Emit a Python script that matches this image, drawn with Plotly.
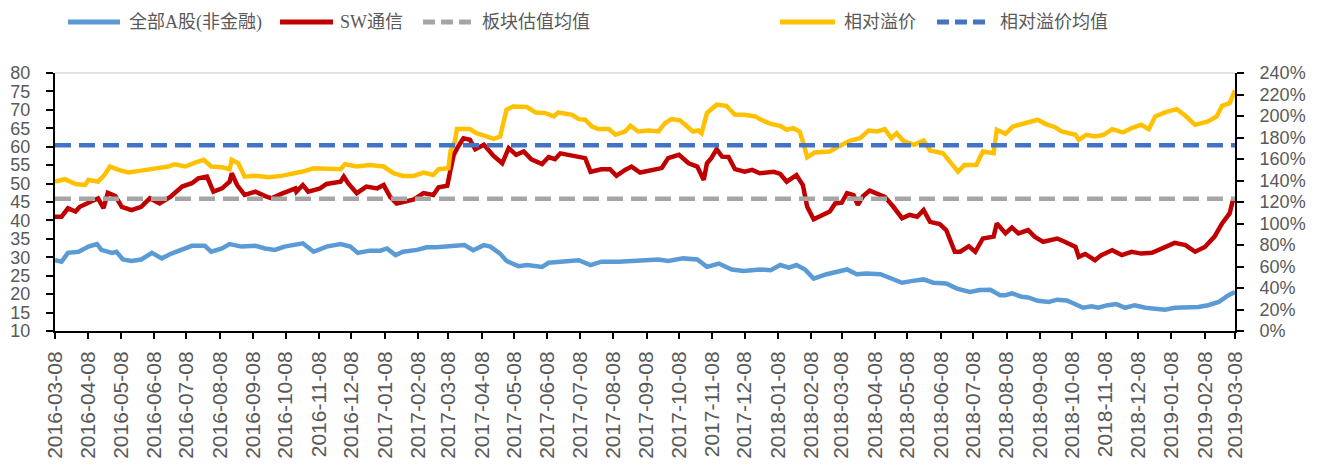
import pandas as pd
import plotly.graph_objects as go

START = "2016-03-08"
END = "2019-03-08"

tick_labels = [
    "2016-03-08", "2016-04-08", "2016-05-08", "2016-06-08", "2016-07-08", "2016-08-08",
    "2016-09-08", "2016-10-08", "2016-11-08", "2016-12-08", "2017-01-08", "2017-02-08",
    "2017-03-08", "2017-04-08", "2017-05-08", "2017-06-08", "2017-07-08", "2017-08-08",
    "2017-09-08", "2017-10-08", "2017-11-08", "2017-12-08", "2018-01-08", "2018-02-08",
    "2018-03-08", "2018-04-08", "2018-05-08", "2018-06-08", "2018-07-08", "2018-08-08",
    "2018-09-08", "2018-10-08", "2018-11-08", "2018-12-08", "2019-01-08", "2019-02-08",
    "2019-03-08",
]

series_names = ["全部A股(非金融)", "SW通信", "板块估值均值", "相对溢价", "相对溢价均值"]

# days since 2016-03-08
a_share_day = [0, 6, 12, 22, 31, 39, 43, 53, 57, 63, 71, 80, 90, 99, 108, 118, 127, 139, 145, 155, 162, 173, 186, 195, 204, 213, 223,
               230, 240, 252, 265, 274, 281, 292, 302, 308, 316, 323, 336, 345, 354, 367, 380, 388, 398, 404, 413, 419, 430, 438,
               452, 458, 473, 486, 497, 507, 523, 535, 548, 560, 569, 583, 596, 605, 616, 628, 639, 650,
               654, 664, 673, 681, 688, 696, 704, 716, 725, 735, 744, 753, 766, 778, 786, 796, 806, 815, 827, 837, 849, 858, 868, 877,
               882, 888, 897, 903, 912, 922, 930, 939, 947, 954, 962, 968, 977, 985, 993, 1002, 1012, 1021, 1030, 1039, 1052, 1061, 1070, 1080, 1089, 1095]
a_share_pe = [29.2, 28.8, 31.2, 31.5, 32.9, 33.6, 32.0, 31.2, 31.5, 29.4, 29.0, 29.4, 31.2, 29.7, 31.0, 32.0, 33.1, 33.1, 31.5, 32.4, 33.6, 32.9, 33.1, 32.4, 32.0, 32.9, 33.6,
              33.8, 31.5, 32.9, 33.6, 32.9, 31.2, 31.8, 31.8, 32.4, 30.6, 31.5, 32.0, 32.7, 32.7, 32.9, 33.3, 31.9, 33.3, 32.9, 31.0, 29.0, 27.6, 27.9,
              27.4, 28.5, 28.8, 29.2, 27.9, 28.8, 28.8, 29.0, 29.0, 29.4, 29.0, 29.7, 29.4, 27.4, 28.3, 26.7, 26.3, 26.7,
              26.7, 26.5, 27.9, 27.2, 27.9, 26.7, 24.2, 25.4, 26.1, 26.7, 25.4, 25.6, 25.4, 24.2, 23.1, 23.6, 24.0, 23.1, 22.9, 21.5, 20.6, 21.1, 21.2, 19.7,
              19.7, 20.2, 19.3, 19.1, 18.2, 17.9, 18.5, 18.3, 17.4, 16.3, 16.7, 16.3, 17.0, 17.3, 16.3, 17.0, 16.3, 16.1, 15.8, 16.3, 16.5, 16.5, 17.0, 17.9, 19.7, 20.6]

telecom_day = [0, 6, 12, 19, 23, 31, 40, 45, 49, 56, 62, 71, 80, 88, 97, 107, 118, 127, 133, 141, 147, 155, 162, 164, 169, 176, 186, 195, 201, 210, 223,
               224, 230, 235, 246, 252, 265, 268, 272, 280, 289, 299, 305, 311, 317, 325, 333, 342, 351, 356, 364, 367, 370, 374, 379, 385, 390, 398, 407, 415, 421, 428, 435,
               442, 452, 458, 464, 469, 480, 487, 492, 497, 507, 515, 521, 529, 535, 543, 554, 563, 569, 579, 588, 596, 602, 605, 609, 614, 619, 625, 631, 640, 647,
               654, 667, 673, 679, 688, 694, 698, 704, 713, 719, 724, 730, 735, 741, 745, 750, 756, 763, 770, 778, 786, 793, 800, 806, 812, 821, 827, 835, 840, 848, 854, 861, 871, 874, 877,
               882, 888, 894, 903, 909, 917, 923, 930, 937, 947, 950, 956, 965, 971, 981, 990, 999, 1008, 1018, 1027, 1039, 1049, 1058, 1067, 1076, 1083, 1090, 1093, 1095]
telecom_pe = [41.0, 41.0, 43.3, 42.4, 43.7, 44.8, 46.0, 43.3, 47.5, 46.6, 43.7, 42.8, 43.7, 46.0, 44.6, 46.4, 49.2, 50.1, 51.4, 51.9, 47.8, 48.7, 50.5, 52.8, 49.6, 46.9, 47.8, 46.6, 46.0, 47.2, 48.7,
              47.8, 49.6, 47.8, 48.7, 49.9, 50.5, 51.9, 50.1, 47.4, 49.2, 48.7, 49.6, 46.4, 44.6, 45.1, 45.7, 47.4, 46.9, 49.0, 49.4, 53.7, 57.8, 60.0, 62.3, 61.9, 59.3, 60.5, 57.5, 55.5, 59.6, 57.8, 58.7,
              56.6, 55.3, 57.2, 56.6, 58.2, 57.5, 57.2, 56.9, 53.2, 53.9, 53.9, 52.1, 53.7, 54.6, 53.0, 53.7, 54.2, 56.9, 57.8, 55.5, 54.6, 51.0, 55.5, 56.9, 59.3, 57.3, 57.2, 53.9, 53.2, 53.7,
              52.8, 53.2, 52.6, 50.5, 52.3, 49.6, 43.7, 40.3, 41.5, 42.4, 44.6, 44.8, 47.4, 46.9, 44.2, 46.6, 48.1, 47.4, 46.4, 43.7, 40.6, 41.5, 41.0, 42.8, 39.6, 39.0, 37.4, 31.5, 31.5, 33.0, 31.5, 35.1, 35.6, 39.2, 38.3,
              36.5, 38.1, 36.5, 37.4, 35.6, 34.2, 34.7, 35.1, 34.2, 32.8, 30.1, 30.9, 29.2, 30.6, 31.9, 30.6, 31.5, 31.0, 31.2, 32.4, 33.9, 33.3, 31.5, 32.8, 35.6, 39.2, 41.9, 45.4, 45.0]

premium_day = [0, 9, 19, 28, 31, 40, 46, 51, 59, 68, 80, 93, 105, 111, 121, 130, 138, 145, 155, 162, 164, 170, 176, 186, 198, 210, 223,
               230, 240, 252, 265, 269, 280, 292, 305, 314, 323, 333, 342, 351, 356, 365, 367, 371, 373, 385, 391, 401, 407, 413, 419, 425, 438,
               446, 455, 463, 467, 480, 486, 492, 498, 504, 514, 520, 529, 534, 541, 551, 560, 566, 572, 580, 588, 592, 597, 600, 605, 614, 623, 631, 640, 650,
               654, 664, 673, 679, 685, 691, 694, 698, 705, 719, 728, 738, 747, 755, 763, 770, 776, 781, 787, 797, 806, 812, 824, 831, 838, 844, 855, 861, 871, 874,
               882, 889, 897, 905, 912, 919, 928, 934, 947, 950, 957, 965, 973, 981, 991, 999, 1008, 1015, 1021, 1030, 1041, 1049, 1058, 1070, 1078, 1083, 1090, 1095]
premium_pct = [139.0, 141.2, 136.8, 135.9, 140.5, 139.0, 145.2, 153.0, 149.9, 147.4, 149.2, 150.8, 153.0, 155.1, 153.0, 156.7, 159.2, 153.0, 152.3, 150.5, 159.2, 156.1, 143.6, 144.3, 143.0, 144.3, 146.8,
               148.3, 151.4, 151.4, 150.5, 155.1, 153.0, 154.5, 153.0, 146.8, 144.3, 144.3, 147.4, 145.2, 150.5, 151.4, 167.0, 176.3, 187.8, 187.8, 184.0, 180.9, 178.8, 180.9, 205.8, 208.9, 208.3,
               203.3, 202.7, 199.6, 203.3, 201.1, 197.1, 196.5, 190.3, 187.8, 187.8, 182.5, 185.6, 190.9, 185.6, 186.5, 185.6, 193.4, 197.1, 195.9, 188.7, 185.6, 186.5, 184.0, 202.7, 210.5, 209.5, 201.1, 201.1, 199.6,
               197.1, 192.7, 190.9, 187.2, 188.7, 185.6, 176.3, 161.7, 166.0, 167.0, 172.2, 177.2, 179.4, 186.5, 185.6, 187.8, 179.4, 184.0, 177.2, 173.2, 177.2, 167.9, 165.4, 156.7, 148.3, 154.5, 154.5, 167.0, 165.4, 187.2,
               183.4, 190.3, 192.7, 194.9, 196.5, 192.7, 189.6, 185.6, 182.5, 177.8, 182.5, 180.9, 182.5, 187.8, 184.7, 188.7, 191.8, 187.8, 199.6, 203.3, 206.4, 200.2, 191.8, 194.9, 199.6, 209.5, 212.0, 223.8]

sector_mean_pe = 45.9
premium_mean_pct = 172.8

colors = ["#5B9BD5", "#C00000", "#A5A5A5", "#FFC000", "#4472C4"]
dash_styles = ["solid", "solid", "16px,8px", "solid", "16px,8px"]


def to_dates(days):
    return pd.Timestamp(START) + pd.to_timedelta(days, unit="D")


fig = go.Figure()
fig.add_trace(go.Scatter(x=to_dates(a_share_day), y=a_share_pe, mode="lines", name=series_names[0],
                         line=dict(color=colors[0], width=4.5), yaxis="y"))
fig.add_trace(go.Scatter(x=to_dates(telecom_day), y=telecom_pe, mode="lines", name=series_names[1],
                         line=dict(color=colors[1], width=4.5), yaxis="y"))
fig.add_trace(go.Scatter(x=[START, END], y=[sector_mean_pe, sector_mean_pe], mode="lines", name=series_names[2],
                         line=dict(color=colors[2], width=4.5, dash=dash_styles[2]), yaxis="y"))
fig.add_trace(go.Scatter(x=to_dates(premium_day), y=premium_pct, mode="lines", name=series_names[3],
                         line=dict(color=colors[3], width=4.5), yaxis="y2"))
fig.add_trace(go.Scatter(x=[START, END], y=[premium_mean_pct, premium_mean_pct], mode="lines", name=series_names[4],
                         line=dict(color=colors[4], width=4.5, dash=dash_styles[4]), yaxis="y2"))

# --- layout in page pixels (the page body has an 8px default margin) ---
BODY = 8
W, H = 1330 - BODY, 470 - BODY
ML, MR, MT, MB = 55 - BODY, 95, 73 - BODY, 139
PW, PH = W - ML - MR, H - MT - MB


def px_x(px):
    return (px - BODY - ML) / PW


def px_y(py):
    return (H - MB - (py - BODY)) / PH


legend_items = [(68, 120, 127), (280, 333, 338), (423, 472, 480), (780, 835, 842), (937, 987, 998)]
legend_y = 22
shapes = []
annotations = []
for i, (x0, x1, tx) in enumerate(legend_items):
    shapes.append(dict(type="line", xref="paper", yref="paper",
                       x0=px_x(x0), x1=px_x(x1), y0=px_y(legend_y), y1=px_y(legend_y),
                       line=dict(color=colors[i], width=5,
                                 dash="solid" if dash_styles[i] == "solid" else "12px,6px")))
    annotations.append(dict(xref="paper", yref="paper", x=px_x(tx), y=px_y(legend_y),
                            text=series_names[i], showarrow=False, xanchor="left", yanchor="middle",
                            font=dict(family="Liberation Serif, Noto Sans CJK SC", size=18, color="#595959")))

# light top border of the plot area
shapes.append(dict(type="line", xref="paper", yref="paper", x0=0, x1=1, y0=1, y1=1,
                   line=dict(color="#D9D9D9", width=1.5), layer="below"))

tick_font = dict(family="Liberation Sans, Arial", size=18, color="#595959")

fig.update_layout(
    width=W, height=H,
    margin=dict(l=ML, r=MR, t=MT, b=MB, autoexpand=False),
    plot_bgcolor="white", paper_bgcolor="white",
    showlegend=False,
    shapes=shapes, annotations=annotations,
    xaxis=dict(type="date", range=[START, END], tickmode="array",
               tickvals=tick_labels, ticktext=tick_labels, tickangle=-90,
               ticks="outside", ticklen=6, tickwidth=1.5, tickcolor="black",
               showline=True, linecolor="black", linewidth=2, showgrid=False, zeroline=False,
               tickfont=dict(family="Liberation Sans, Arial", size=21, color="#595959"),
               ticklabelstandoff=4),
    yaxis=dict(range=[10, 80], tick0=10, dtick=5, ticks="outside", ticklen=7, tickwidth=1.5,
               tickcolor="black", showline=True, linecolor="black", linewidth=2,
               showgrid=False, zeroline=False, tickfont=tick_font, ticklabelstandoff=12),
    yaxis2=dict(range=[0, 240], tick0=0, dtick=20, ticksuffix="%", overlaying="y", side="right",
                ticks="outside", ticklen=7, tickwidth=1.5, tickcolor="black", showline=True,
                linecolor="black", linewidth=2, showgrid=False, zeroline=False,
                tickfont=tick_font, ticklabelstandoff=12),
)

fig.write_html("out.html")
